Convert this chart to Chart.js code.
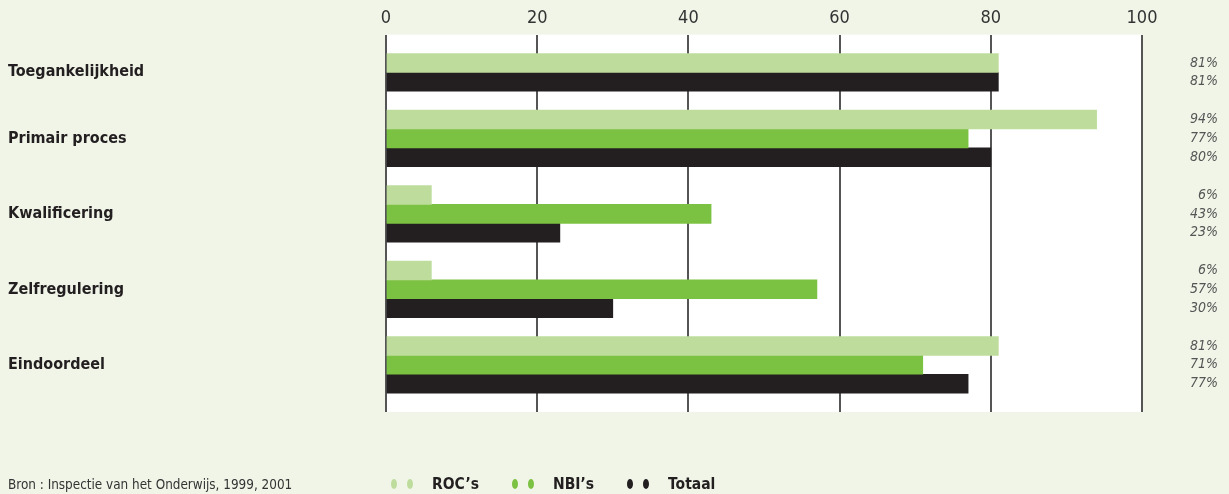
<!DOCTYPE html>
<html>
<head>
<meta charset="utf-8">
<script src="https://cdn.jsdelivr.net/npm/chart.js@4.4.1/dist/chart.umd.min.js"></script>
<style>
  html, body { margin: 0; padding: 0; background: #f0f5e8; }
  #wrap { position: relative; width: 1229px; height: 494px; }
  #foot { position: absolute; left: 0; top: 473px; width: 1229px; height: 22px;
          font-family: 'Liberation Sans Narrow', 'DejaVu Sans Condensed', sans-serif; line-height: 22px; }
  #foot .src { position: absolute; left: 8px; top: 1px; font-size: 13.4px; color: #333; }
  #legend { position: absolute; left: 391px; top: 0; display: flex; }
  .item { display: flex; align-items: center; margin-right: 33px; font-weight: bold; font-size: 15.5px; color: #231f20; white-space: nowrap; }
  .dot { flex: none; width: 6px; height: 10px; border-radius: 50%; margin-right: 10px; }
  .dot + .dot { margin-right: 19px; }
</style>
</head>
<body>
<div id="wrap">
  <canvas id="chart" width="1229" height="494"></canvas>
  <div id="foot">
    <span class="src">Bron : Inspectie van het Onderwijs, 1999, 2001</span>
    <div id="legend"></div>
  </div>
</div>
<script>
/* ============ DATA ============ */
const categories = ['Toegankelijkheid', 'Primair proces', 'Kwalificering', 'Zelfregulering', 'Eindoordeel'];
const seriesNames = ['ROC\u2019s', 'NBI\u2019s', 'Totaal'];
const seriesColors = ['#bedd9c', '#7cc242', '#231f20'];
const roc = [81, 94, 6, 6, 81];
const nbi = [null, 77, 43, 57, 71];
const totaal = [81, 80, 23, 30, 77];
const xTicks = [0, 20, 40, 60, 80, 100];

/* ============ ROW LAYOUT ============ */
// every bar gets its own row; a blank row separates the groups
const series = [roc, nbi, totaal];
const rows = [null];
const groupRows = [];
categories.forEach((c, ci) => {
  const idx = [];
  series.forEach((vals, si) => {
    if (vals[ci] == null) return;
    idx.push(rows.length);
    rows.push({ ci, si, v: vals[ci] });
  });
  groupRows.push(idx);
  rows.push(null);
});
const rowKeys = rows.map((r, i) => 'row' + i);
const rowValues = si => rows.map(r => (r && r.si === si ? r.v : null));
const rowText = rows.map(r => (r ? r.v + '%' : ''));

// category names sit on a half-row grid so two-bar groups stay centred
const halfRowLabels = new Array(rows.length * 2 + 1).fill('');
groupRows.forEach((idx, ci) => {
  const mid = (idx[0] + idx[idx.length - 1]) / 2;
  halfRowLabels[mid * 2 + 1] = categories[ci];
});

/* ============ CHART ============ */
const FONT = "'Liberation Sans Narrow', 'DejaVu Sans Condensed', sans-serif";
Chart.defaults.font.family = FONT;

const plotBg = {
  id: 'plotBg',
  beforeDraw(chart) {
    const { ctx, chartArea: a } = chart;
    ctx.save();
    ctx.fillStyle = '#ffffff';
    ctx.fillRect(a.left, a.top, a.right - a.left, a.bottom - a.top);
    ctx.restore();
  }
};

const chart = new Chart(document.getElementById('chart'), {
  type: 'bar',
  data: {
    labels: rowKeys,
    datasets: seriesNames.map((name, si) => ({
      label: name,
      data: rowValues(si),
      backgroundColor: seriesColors[si],
      borderWidth: 0,
      barPercentage: 1,
      categoryPercentage: 1
    }))
  },
  options: {
    indexAxis: 'y',
    responsive: false,
    animation: false,
    layout: { padding: { left: 8, right: 11, top: 3, bottom: 82 } },
    plugins: { legend: { display: false }, tooltip: { enabled: false } },
    scales: {
      x: {
        position: 'top',
        stacked: true,
        min: 0, max: 100,
        afterBuildTicks: s => { s.ticks = xTicks.map(v => ({ value: v })); },
        grid: { color: '#555', lineWidth: 2, drawTicks: false },
        border: { display: false },
        ticks: { padding: 5, color: '#333', font: { size: 18 } }
      },
      y: { stacked: true, display: false },
      yl: {
        type: 'category',
        position: 'left',
        labels: halfRowLabels,
        offset: false,
        afterFit: s => { s.width = 378; },
        grid: { display: false },
        border: { display: false },
        ticks: {
          autoSkip: false,
          crossAlign: 'far',
          color: '#231f20',
          font: { size: 16, weight: 'bold' }
        }
      },
      yr: {
        type: 'category',
        position: 'right',
        labels: rowText,
        offset: true,
        afterFit: s => { s.width = 76; },
        grid: { display: false },
        border: { display: false },
        ticks: {
          autoSkip: false,
          crossAlign: 'far',
          color: '#555',
          font: { size: 14, style: 'italic' }
        }
      }
    }
  },
  plugins: [plotBg]
});

/* ============ LEGEND ============ */
document.getElementById('legend').innerHTML = chart.data.datasets.map(ds => `
  <span class="item"><span class="dot" style="background:${ds.backgroundColor}"></span><span class="dot" style="background:${ds.backgroundColor}"></span>${ds.label}</span>
`).join('');
</script>
</body>
</html>
